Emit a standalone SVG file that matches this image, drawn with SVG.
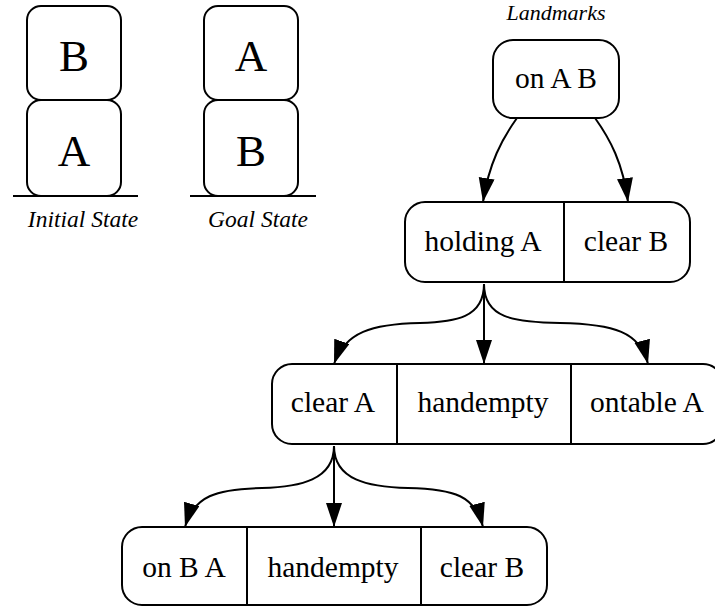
<svg xmlns="http://www.w3.org/2000/svg" width="715" height="607" viewBox="0 0 715 607">
<defs>
<marker id="ah" markerUnits="userSpaceOnUse" markerWidth="26" markerHeight="18" refX="24" refY="8" orient="auto">
<path d="M0,0 L24,8 L0,16 z" fill="#000"/>
</marker>
<style>
.box{fill:#fff;stroke:#000;stroke-width:2}
.blk{fill:#fff;stroke:#000;stroke-width:2}
.div{stroke:#000;stroke-width:2}
.t{font-size:29.5px;text-anchor:middle;fill:#000}
.bl{font-size:45px;text-anchor:middle;fill:#000}
.cap{font-style:italic;font-size:23.5px;text-anchor:middle;fill:#000}
.edge{fill:none;stroke:#000;stroke-width:2;marker-end:url(#ah)}
</style>
</defs>
<rect width="715" height="607" fill="#fff"/>
<g id="initial-state">
<rect class="blk" x="27" y="6" width="94" height="94" rx="14"/>
<rect class="blk" x="27" y="100" width="94" height="96" rx="14"/>
<line class="div" x1="13" y1="196" x2="138" y2="196"/>
<text class="bl" font-family="Liberation Serif, serif" x="74" y="71">B</text>
<text class="bl" font-family="Liberation Serif, serif" x="74" y="166">A</text>
<text class="cap" font-family="Liberation Serif, serif" x="83" y="227">Initial State</text>
</g>
<g id="goal-state">
<rect class="blk" x="204" y="6" width="94" height="94" rx="14"/>
<rect class="blk" x="204" y="100" width="94" height="96" rx="14"/>
<line class="div" x1="190" y1="196" x2="316" y2="196"/>
<text class="bl" font-family="Liberation Serif, serif" x="251" y="71">A</text>
<text class="bl" font-family="Liberation Serif, serif" x="251" y="166">B</text>
<text class="cap" font-family="Liberation Serif, serif" x="258" y="227">Goal State</text>
</g>
<g id="landmarks-label">
<text class="cap" font-family="Liberation Serif, serif" x="556" y="20" style="font-size:22px">Landmarks</text>
</g>
<g id="connectors">
<path class="edge" d="M517,118 C502,139 489,163 483,202"/>
<path class="edge" d="M595,118 C610,139 623,163 628,202"/>
<path class="edge" d="M484,284 L484,364"/>
<path class="edge" d="M484,284 C484,318 455,322 420,323 C372,324 345,332 334,364"/>
<path class="edge" d="M484,284 C484,318 513,322 560,323 C614,324 640,332 648,364"/>
<path class="edge" d="M334,446 L334,527"/>
<path class="edge" d="M334,446 C334,480 300,487 262,488 C216,489 194,496 185,527"/>
<path class="edge" d="M334,446 C334,480 368,487 408,488 C455,489 475,496 483,527"/>
</g>
<g id="n-onAB">
<rect class="box" x="493" y="40" width="126" height="78" rx="20"/>
<text class="t" font-family="Liberation Serif, serif" x="556" y="88">on A B</text>
</g>
<g id="n-holding">
<rect class="box" x="405" y="202" width="285" height="80" rx="20"/>
<line class="div" x1="564" y1="202" x2="564" y2="282"/>
<text class="t" font-family="Liberation Serif, serif" x="483" y="251">holding A</text>
<text class="t" font-family="Liberation Serif, serif" x="626" y="251">clear B</text>
</g>
<g id="n-clearA">
<rect class="box" x="272" y="364" width="451" height="80" rx="20"/>
<line class="div" x1="397" y1="364" x2="397" y2="444"/>
<line class="div" x1="571" y1="364" x2="571" y2="444"/>
<text class="t" font-family="Liberation Serif, serif" x="333" y="412">clear A</text>
<text class="t" font-family="Liberation Serif, serif" x="483" y="412">handempty</text>
<text class="t" font-family="Liberation Serif, serif" x="647" y="412">ontable A</text>
</g>
<g id="n-onBA">
<rect class="box" x="122" y="527" width="425" height="78" rx="20"/>
<line class="div" x1="247" y1="527" x2="247" y2="605"/>
<line class="div" x1="421" y1="527" x2="421" y2="605"/>
<text class="t" font-family="Liberation Serif, serif" x="184" y="577">on B A</text>
<text class="t" font-family="Liberation Serif, serif" x="333" y="577">handempty</text>
<text class="t" font-family="Liberation Serif, serif" x="482" y="577">clear B</text>
</g>
</svg>
